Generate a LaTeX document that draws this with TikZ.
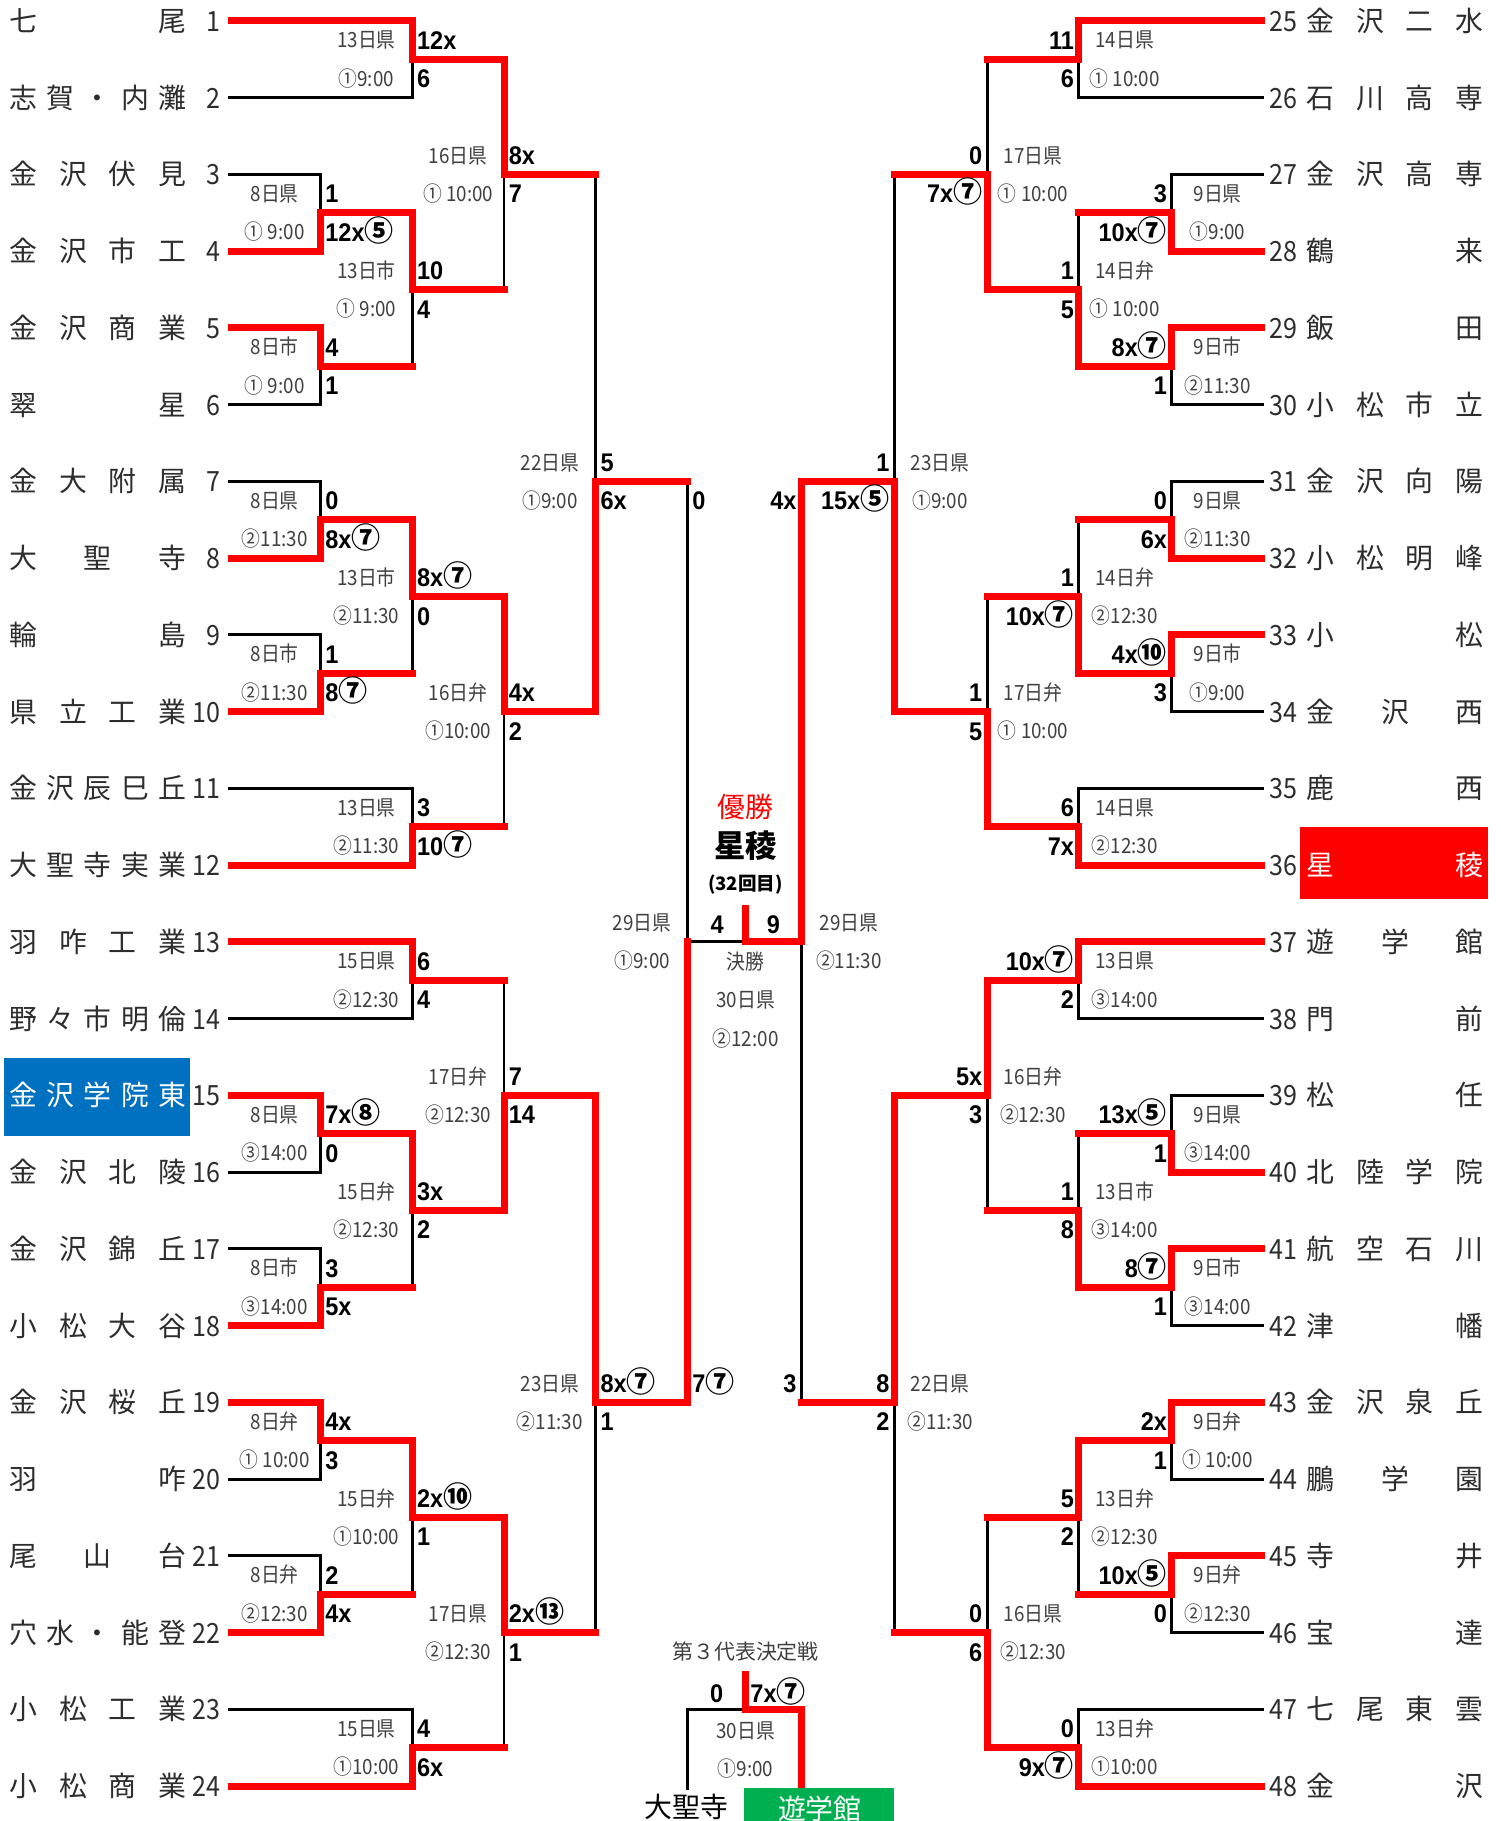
\documentclass[tikz,border=0pt]{standalone}
\usepackage{fontspec}
\newfontfamily\jp{Noto Sans CJK JP}
\newfontfamily\jpn[FakeStretch=0.9]{Noto Sans CJK JP}
\newfontfamily\scf[FakeStretch=0.92]{Liberation Sans}
\definecolor{hlblue}{RGB}{0,112,192}
\definecolor{hlgreen}{RGB}{0,176,80}
\definecolor{txtgray}{RGB}{45,45,45}
\definecolor{labgray}{RGB}{64,64,64}
\pgfdeclarelayer{back}
\pgfsetlayers{back,main}
\tikzset{
  stblk/.style={draw=black,line width=2.5pt,line cap=rect},
  stred/.style={draw=red,line width=6pt,line cap=rect,line join=miter},
  stname/.style={inner sep=0pt,text=txtgray,font=\jp\fontsize{24}{24}\selectfont,text height=21pt,text depth=3pt},
  stnum/.style={inner sep=0pt,text=txtgray,font=\jpn\fontsize{24}{24}\selectfont,text height=21pt,text depth=3pt},
  stlab/.style={inner sep=0pt,text=labgray,font=\jpn\fontsize{18}{18}\selectfont,text height=15.8pt,text depth=2.2pt},
  stscore/.style={inner sep=0pt,text=black,font=\scf\bfseries\fontsize{22}{22}\selectfont,text height=16pt,text depth=0pt},
}
\newcommand\circn[1]{{\jp\bfseries\fontsize{25}{25}\selectfont #1}}
\newcommand\TeamL[2]{\node[stname,anchor=west] (n#1) at (8,#1) {\makebox[152pt]{#2}};
  \node[stnum,anchor=east] (k#1) at (190,#1) {#1};}
\newcommand\TeamR[3]{\node[stnum,anchor=west] (k#2) at (1093,#1) {#2};
  \node[stname,anchor=west] (n#2) at (1125,#1) {\makebox[152pt]{#3}};}
% x_v, r_top, r_bot, r_win, r_out, x_next
\newcommand\MLine[6]{\begin{pgfonlayer}{back}\draw[stblk] (#1,#2) -- (#1,#3);\end{pgfonlayer}
  \draw[stred] (#1,#4) -- (#1,#5) -- (#6,#5);}
% id, x_v, r_out, s_top, s_bot, l_top, l_bot
\newcommand\MTxtL[7]{%
  \node[stscore,anchor=west] (#1a) at ({#2+4},{#3-0.25}) {#4};
  \node[stscore,anchor=west] (#1b) at ({#2+4},{#3+0.25}) {#5};
  \node[stlab] (#1c) at ({#2-39.5},{#3-0.25}) {#6};
  \node[stlab] (#1d) at ({#2-39.5},{#3+0.25}) {#7};}
\newcommand\MTxtR[7]{%
  \node[stscore,anchor=east] (#1a) at ({#2-4},{#3-0.25}) {#4};
  \node[stscore,anchor=east] (#1b) at ({#2-4},{#3+0.25}) {#5};
  \node[stlab] (#1c) at ({#2+39.5},{#3-0.25}) {#6};
  \node[stlab] (#1d) at ({#2+39.5},{#3+0.25}) {#7};}
\begin{document}
\begin{tikzpicture}[x=1pt,y=-66.087pt]
\useasboundingbox (0,0.7276) rectangle (1292,24.4545);
\begin{pgfonlayer}{back}
\fill[white] (0,0.7276) rectangle (1292,24.4545);
\foreach \r/\x in {2/355,3/276,6/276,7/276,9/276,11/355,14/355,16/276,17/276,20/276,21/276,23/355}
  \draw[stblk] (198,\r) -- (\x,\r);
\foreach \r/\x in {2/929,3/1009,6/1009,7/1009,10/1009,11/929,14/929,15/1009,18/1009,20/1009,22/1009,23/929}
  \draw[stblk] (1087,\r) -- (\x,\r);
\end{pgfonlayer}
\foreach \r/\x in {1/355,4/276,5/276,8/276,10/276,12/355,13/355,15/276,18/276,19/276,22/276,24/355}
  \draw[stred] (199,\r) -- (\x,\r);
\foreach \r/\x in {1/929,4/1009,5/1009,8/1009,9/1009,12/929,13/929,16/1009,17/1009,19/1009,21/1009,24/929}
  \draw[stred] (1086,\r) -- (\x,\r);

% left bracket
\MLine{355}{1}{2}{1}{1.5}{434}
\MLine{276}{3}{4}{4}{3.5}{355}
\MLine{276}{5}{6}{5}{5.5}{355}
\MLine{355}{3.5}{5.5}{3.5}{4.5}{434}
\MLine{434}{1.5}{4.5}{1.5}{3}{513}
\MLine{276}{7}{8}{8}{7.5}{355}
\MLine{276}{9}{10}{10}{9.5}{355}
\MLine{355}{7.5}{9.5}{7.5}{8.5}{434}
\MLine{355}{11}{12}{12}{11.5}{434}
\MLine{434}{8.5}{11.5}{8.5}{10}{513}
\MLine{513}{3}{10}{10}{7}{592}
\MLine{355}{13}{14}{13}{13.5}{434}
\MLine{276}{15}{16}{15}{15.5}{355}
\MLine{276}{17}{18}{18}{17.5}{355}
\MLine{355}{15.5}{17.5}{15.5}{16.5}{434}
\MLine{434}{13.5}{16.5}{16.5}{15}{513}
\MLine{276}{19}{20}{19}{19.5}{355}
\MLine{276}{21}{22}{22}{21.5}{355}
\MLine{355}{19.5}{21.5}{19.5}{20.5}{434}
\MLine{355}{23}{24}{24}{23.5}{434}
\MLine{434}{20.5}{23.5}{20.5}{22}{513}
\MLine{513}{15}{22}{15}{19}{592}
% right bracket
\MLine{929}{1}{2}{1}{1.5}{850}
\MLine{1009}{3}{4}{4}{3.5}{929}
\MLine{1009}{5}{6}{5}{5.5}{929}
\MLine{929}{3.5}{5.5}{5.5}{4.5}{850}
\MLine{850}{1.5}{4.5}{4.5}{3}{770}
\MLine{1009}{7}{8}{8}{7.5}{929}
\MLine{1009}{9}{10}{9}{9.5}{929}
\MLine{929}{7.5}{9.5}{9.5}{8.5}{850}
\MLine{929}{11}{12}{12}{11.5}{850}
\MLine{850}{8.5}{11.5}{11.5}{10}{770}
\MLine{770}{3}{10}{10}{7}{690}
\MLine{929}{13}{14}{13}{13.5}{850}
\MLine{1009}{15}{16}{16}{15.5}{929}
\MLine{1009}{17}{18}{17}{17.5}{929}
\MLine{929}{15.5}{17.5}{17.5}{16.5}{850}
\MLine{850}{13.5}{16.5}{13.5}{15}{770}
\MLine{1009}{19}{20}{19}{19.5}{929}
\MLine{1009}{21}{22}{21}{21.5}{929}
\MLine{929}{19.5}{21.5}{19.5}{20.5}{850}
\MLine{929}{23}{24}{24}{23.5}{850}
\MLine{850}{20.5}{23.5}{23.5}{22}{770}
\MLine{770}{15}{22}{15}{19}{690}
% semifinals and final
\begin{pgfonlayer}{back}
\draw[stblk] (592,7) -- (592,19);
\draw[stblk] (592,13) -- (642,13);
\draw[stblk] (690,7) -- (690,19);
\draw[stblk] (592,24.03) -- (592,23) -- (642,23);
\end{pgfonlayer}
\draw[stred] (592,19) -- (592,13);
\draw[stred] (690,7) -- (690,13) -- (642,13);
\draw[stred] (642,12.56) -- (642,13);
\draw[stred] (642,22.55) -- (642,23) -- (690,23) -- (690,24.03);

% highlight boxes
\fill[hlblue] (3.4,14.512) rectangle (164,15.526);
\fill[red] (1119,11.501) rectangle (1281,12.440);
\fill[hlgreen] (641,24.03) rectangle (770,24.4545);

% team names
\TeamL{1}{七\hfill 尾}
\TeamL{2}{志\hfill 賀\hfill ・\hfill 内\hfill 灘}
\TeamL{3}{金\hfill 沢\hfill 伏\hfill 見}
\TeamL{4}{金\hfill 沢\hfill 市\hfill 工}
\TeamL{5}{金\hfill 沢\hfill 商\hfill 業}
\TeamL{6}{翠\hfill 星}
\TeamL{7}{金\hfill 大\hfill 附\hfill 属}
\TeamL{8}{大\hfill 聖\hfill 寺}
\TeamL{9}{輪\hfill 島}
\TeamL{10}{県\hfill 立\hfill 工\hfill 業}
\TeamL{11}{金\hfill 沢\hfill 辰\hfill 巳\hfill 丘}
\TeamL{12}{大\hfill 聖\hfill 寺\hfill 実\hfill 業}
\TeamL{13}{羽\hfill 咋\hfill 工\hfill 業}
\TeamL{14}{野\hfill 々\hfill 市\hfill 明\hfill 倫}
\node[stname,anchor=west,text=white] (n15) at (8,15) {\makebox[152pt]{金\hfill 沢\hfill 学\hfill 院\hfill 東}};
\node[stnum,anchor=east] (k15) at (190,15) {15};
\TeamL{16}{金\hfill 沢\hfill 北\hfill 陵}
\TeamL{17}{金\hfill 沢\hfill 錦\hfill 丘}
\TeamL{18}{小\hfill 松\hfill 大\hfill 谷}
\TeamL{19}{金\hfill 沢\hfill 桜\hfill 丘}
\TeamL{20}{羽\hfill 咋}
\TeamL{21}{尾\hfill 山\hfill 台}
\TeamL{22}{穴\hfill 水\hfill ・\hfill 能\hfill 登}
\TeamL{23}{小\hfill 松\hfill 工\hfill 業}
\TeamL{24}{小\hfill 松\hfill 商\hfill 業}
\TeamR{1}{25}{金\hfill 沢\hfill 二\hfill 水}
\TeamR{2}{26}{石\hfill 川\hfill 高\hfill 専}
\TeamR{3}{27}{金\hfill 沢\hfill 高\hfill 専}
\TeamR{4}{28}{鶴\hfill 来}
\TeamR{5}{29}{飯\hfill 田}
\TeamR{6}{30}{小\hfill 松\hfill 市\hfill 立}
\TeamR{7}{31}{金\hfill 沢\hfill 向\hfill 陽}
\TeamR{8}{32}{小\hfill 松\hfill 明\hfill 峰}
\TeamR{9}{33}{小\hfill 松}
\TeamR{10}{34}{金\hfill 沢\hfill 西}
\TeamR{11}{35}{鹿\hfill 西}
\node[stnum,anchor=west] (k36) at (1093,12) {36};
\node[stname,anchor=west,text=white] (n36) at (1125,12) {\makebox[152pt]{星\hfill 稜}};
\TeamR{13}{37}{遊\hfill 学\hfill 館}
\TeamR{14}{38}{門\hfill 前}
\TeamR{15}{39}{松\hfill 任}
\TeamR{16}{40}{北\hfill 陸\hfill 学\hfill 院}
\TeamR{17}{41}{航\hfill 空\hfill 石\hfill 川}
\TeamR{18}{42}{津\hfill 幡}
\TeamR{19}{43}{金\hfill 沢\hfill 泉\hfill 丘}
\TeamR{20}{44}{鵬\hfill 学\hfill 園}
\TeamR{21}{45}{寺\hfill 井}
\TeamR{22}{46}{宝\hfill 達}
\TeamR{23}{47}{七\hfill 尾\hfill 東\hfill 雲}
\TeamR{24}{48}{金\hfill 沢}

% left match texts
\MTxtL{A}{355}{1.5}{12x}{6}{13日県}{①9:00}
\MTxtL{B}{276}{3.5}{1}{12x\circn{⑤}}{8日県}{① 9:00}
\MTxtL{C}{276}{5.5}{4}{1}{8日市}{① 9:00}
\MTxtL{D}{355}{4.5}{10}{4}{13日市}{① 9:00}
\MTxtL{E}{434}{3}{8x}{7}{16日県}{① 10:00}
\MTxtL{F}{276}{7.5}{0}{8x\circn{⑦}}{8日県}{②11:30}
\MTxtL{G}{276}{9.5}{1}{8\circn{⑦}}{8日市}{②11:30}
\MTxtL{H}{355}{8.5}{8x\circn{⑦}}{0}{13日市}{②11:30}
\MTxtL{I}{355}{11.5}{3}{10\circn{⑦}}{13日県}{②11:30}
\MTxtL{J}{434}{10}{4x}{2}{16日弁}{①10:00}
\MTxtL{K}{513}{7}{5}{6x}{22日県}{①9:00}
\MTxtL{L}{355}{13.5}{6}{4}{15日県}{②12:30}
\MTxtL{M}{276}{15.5}{7x\circn{⑧}}{0}{8日県}{③14:00}
\MTxtL{N}{276}{17.5}{3}{5x}{8日市}{③14:00}
\MTxtL{O}{355}{16.5}{3x}{2}{15日弁}{②12:30}
\MTxtL{P}{434}{15}{7}{14}{17日弁}{②12:30}
\MTxtL{R}{276}{19.5}{4x}{3}{8日弁}{① 10:00}
\MTxtL{S}{276}{21.5}{2}{4x}{8日弁}{②12:30}
\MTxtL{T}{355}{20.5}{2x\circn{⑩}}{1}{15日弁}{①10:00}
\MTxtL{U}{355}{23.5}{4}{6x}{15日県}{①10:00}
\MTxtL{V}{434}{22}{2x\circn{⑬}}{1}{17日県}{②12:30}
\MTxtL{KK}{513}{19}{8x\circn{⑦}}{1}{23日県}{②11:30}
% right match texts
\MTxtR{a}{929}{1.5}{11}{6}{14日県}{① 10:00}
\MTxtR{b}{1009}{3.5}{3}{10x\circn{⑦}}{9日県}{①9:00}
\MTxtR{c}{1009}{5.5}{8x\circn{⑦}}{1}{9日市}{②11:30}
\MTxtR{d}{929}{4.5}{1}{5}{14日弁}{① 10:00}
\MTxtR{e}{850}{3}{0}{7x\circn{⑦}}{17日県}{① 10:00}
\MTxtR{f}{1009}{7.5}{0}{6x}{9日県}{②11:30}
\MTxtR{g}{1009}{9.5}{4x\circn{⑩}}{3}{9日市}{①9:00}
\MTxtR{h}{929}{8.5}{1}{10x\circn{⑦}}{14日弁}{②12:30}
\MTxtR{i}{929}{11.5}{6}{7x}{14日県}{②12:30}
\MTxtR{j}{850}{10}{1}{5}{17日弁}{① 10:00}
\MTxtR{k}{770}{7}{1}{15x\circn{⑤}}{23日県}{①9:00}
\MTxtR{l}{929}{13.5}{10x\circn{⑦}}{2}{13日県}{③14:00}
\MTxtR{m}{1009}{15.5}{13x\circn{⑤}}{1}{9日県}{③14:00}
\MTxtR{n}{1009}{17.5}{8\circn{⑦}}{1}{9日市}{③14:00}
\MTxtR{o}{929}{16.5}{1}{8}{13日市}{③14:00}
\MTxtR{p}{850}{15}{5x}{3}{16日弁}{②12:30}
\MTxtR{q}{1009}{19.5}{2x}{1}{9日弁}{① 10:00}
\MTxtR{r}{1009}{21.5}{10x\circn{⑤}}{0}{9日弁}{②12:30}
\MTxtR{s}{929}{20.5}{5}{2}{13日弁}{②12:30}
\MTxtR{t}{929}{23.5}{0}{9x\circn{⑦}}{13日弁}{①10:00}
\MTxtR{u}{850}{22}{0}{6}{16日県}{②12:30}
\MTxtR{kk}{770}{19}{8}{2}{22日県}{②11:30}

% semifinals
\node[stscore,anchor=west] (SLa) at (596,7.25) {0};
\node[stscore,anchor=west] (SLb) at (596,18.75) {7\circn{⑦}};
\node[stlab] (SLc) at (553,12.75) {29日県};
\node[stlab] (SLd) at (553,13.25) {①9:00};
\node[stscore,anchor=east] (SRa) at (686,7.25) {4x};
\node[stscore,anchor=east] (SRb) at (686,18.75) {3};
\node[stlab] (SRc) at (731,12.75) {29日県};
\node[stlab] (SRd) at (731,13.25) {②11:30};

% final
\node[inner sep=0pt,text=red,font=\jp\fontsize{24}{24}\selectfont] (yusho) at (642,11.244) {優勝};
\node[inner sep=0pt,text=black,font=\jp\bfseries\fontsize{27}{27}\selectfont] (champ) at (642,11.744) {星稜};
\node[inner sep=0pt,text=black,font=\jp\bfseries\fontsize{16}{16}\selectfont] (times) at (642,12.258) {(32回目)};
\node[stscore] (F4) at (617.5,12.77) {4};
\node[stscore] (F9) at (666,12.77) {9};
\node[stlab] (Fa) at (642,13.257) {決勝};
\node[stlab] (Fb) at (642,13.756) {30日県};
\node[stlab] (Fc) at (642,14.256) {②12:00};

% third representative playoff
\node[inner sep=0pt,text=labgray,font=\jp\fontsize{18}{18}\selectfont] (third) at (642,22.245) {第３代表決定戦};
\node[stscore] (T0) at (617,22.79) {0};
\node[stscore,anchor=west] (T7) at (646,22.79) {7x\circn{⑦}};
\node[stlab] (Ta) at (642,23.27) {30日県};
\node[stlab] (Tb) at (642,23.77) {①9:00};
\node[inner sep=0pt,text=black,font=\jp\fontsize{24}{24}\selectfont] (daishoji) at (591,24.27) {大聖寺};
\node[inner sep=0pt,text=white,font=\jp\fontsize{24}{24}\selectfont] (yugakukan) at (706,24.29) {遊学館};
\end{tikzpicture}
\end{document}
